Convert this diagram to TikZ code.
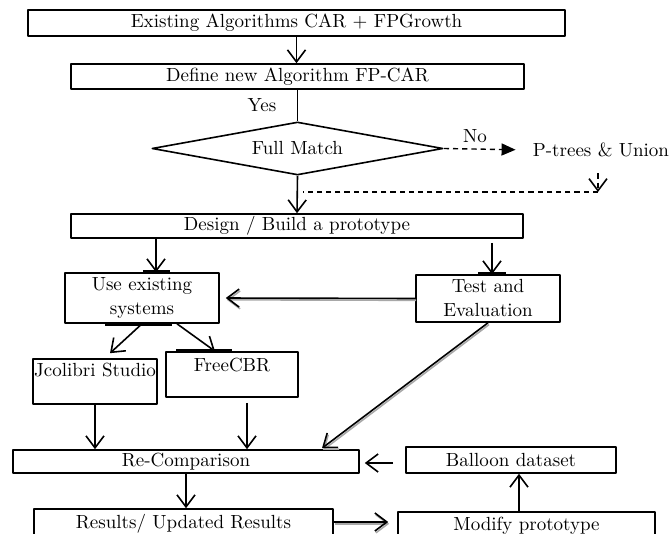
\documentclass[tikz,border=0pt]{standalone}
\usepackage{xcolor}
\usepackage{tikz}
\usetikzlibrary{arrows.meta,shapes.geometric}

\begin{document}
\begin{tikzpicture}[x=.5pt,y=-.5pt,line join=round,
  box/.style={draw,line width=.8pt,inner sep=0pt,font=\fontsize{9.5}{12}\selectfont,align=center},
  arr/.style={-{Straight Barb[length=6pt,width=9pt,line width=.8pt]}},
  link/.style={line width=.8pt,arr},
  shadowed/.style={preaction={draw=shadowgray,line width=.8pt,transform canvas={xshift=.5pt,yshift=-.9pt}}},
  dashlink/.style={line width=.7pt,dash pattern=on 2.6pt off 2pt},
  bar/.style={line width=1.8pt},
  txt/.style={font=\fontsize{9.5}{12}\selectfont,inner sep=1pt}]
\definecolor{shadowgray}{HTML}{A8A8A8}
\useasboundingbox (0,0) rectangle (671,534);
\node[box,minimum width=268.5pt,minimum height=13pt] (exist) at (296.5,23) {Existing Algorithms CAR + FPGrowth};
\node[box,minimum width=226.5pt,minimum height=12.5pt] (define) at (297.5,76.5) {Define new Algorithm FP-CAR};
\node[box,shape=diamond,aspect=5.5,minimum width=145.5pt,minimum height=26.5pt] (match) at (297.5,148.5) {Full Match};
\node[txt] (yes) at (262,105) {Yes};
\node[txt] (no) at (475,136) {No};
\node[txt] (ptrees) at (601,150) {P-trees \& Union};
\coordinate (turn) at (598,192);
\coordinate (join) at (303,192);
\node[box,minimum width=226pt,minimum height=12pt] (design) at (297,226) {Design / Build a prototype};
\node[box,minimum width=77pt,minimum height=25pt] (usesys) at (142,298) {Use existing\\systems};
\node[box,minimum width=72pt,minimum height=23.5pt] (testeval) at (488,298.5) {Test and\\Evaluation};
\node[box,minimum width=62pt,minimum height=22.5pt,label={[txt,anchor=north,inner sep=0pt,yshift=-2.2pt]north:Jcolibri Studio}] (jcol) at (95,381.5) {};
\node[box,minimum width=66pt,minimum height=22.5pt,label={[txt,anchor=north,inner sep=0pt,yshift=-3.2pt]north:FreeCBR}] (freecbr) at (232,374.5) {};
\node[box,minimum width=173pt,minimum height=11.5pt] (recomp) at (186,461.5) {Re-Comparison};
\node[box,minimum width=105pt,minimum height=13pt] (balloon) at (511,460) {Balloon dataset};
\node[box,minimum width=149.5pt,minimum height=15pt] (results) at (183.5,524) {Results/ Updated Results};
\node[box,minimum width=128.5pt,minimum height=14pt] (modify) at (526.5,526) {Modify prototype};
\draw[link] (exist.south) -- (exist.south |- define.north);
\draw[line width=.8pt] (define.south) -- (match.north);
\draw[dashlink,-{Triangle[length=7pt,width=6pt]},shorten >=7.5pt] (match.east) -- (ptrees.west);
\draw[dashlink,arr,shorten <=7pt] (ptrees.south -| turn) -- (turn);
\draw[dashlink] (turn) -- (join);
\draw[link] (match.south) -- (design.north);
\draw[link] ([xshift=7pt]usesys.north |- design.south) -- ([xshift=7pt]usesys.north);
\draw[link,shorten <=2pt] ([xshift=2pt]testeval.north |- design.south) -- ([xshift=2pt]testeval.north);
\draw[link,shadowed,shorten >=3pt] (testeval.west) -- (usesys.east);
\draw[link] (usesys.south) -- ([xshift=7.5pt,yshift=2.5pt]jcol.north);
\draw[link] ([xshift=17.5pt]usesys.south) -- ([xshift=-8.5pt]freecbr.north);
\draw[link] (jcol.south) -- (jcol.south |- recomp.north);
\draw[link,shorten <=2.5pt] ([xshift=7.5pt]freecbr.south) -- ([xshift=7.5pt]freecbr.south |- recomp.north);
\draw[link,shadowed] (testeval.south) -- ([xshift=68pt,yshift=.5pt]recomp.north);
\draw[link,shorten <=6pt,shorten >=2.5pt] ([yshift=-1.5pt]balloon.west) -- ([yshift=-1.5pt]balloon.west -| recomp.east);
\draw[link] (recomp.south) -- (recomp.south |- results.north);
\draw[link,shadowed,shorten >=4.5pt] ([yshift=1pt]results.east) -- ([yshift=1pt]results.east -| modify.west);
\draw[link] ([xshift=-3.75pt]modify.north) -- ([xshift=-3.75pt]modify.north |- balloon.south);
\draw[bar] ([xshift=.5pt]usesys.north) -- ([xshift=14pt]usesys.north);
\draw[bar] ([xshift=-18.5pt]usesys.south) -- ([xshift=15pt]usesys.south);
\draw[bar] ([xshift=-5pt]testeval.north) -- ([xshift=9pt]testeval.north);
\draw[bar] ([xshift=-28pt]freecbr.north) -- (freecbr.north);
\end{tikzpicture}
\end{document}
